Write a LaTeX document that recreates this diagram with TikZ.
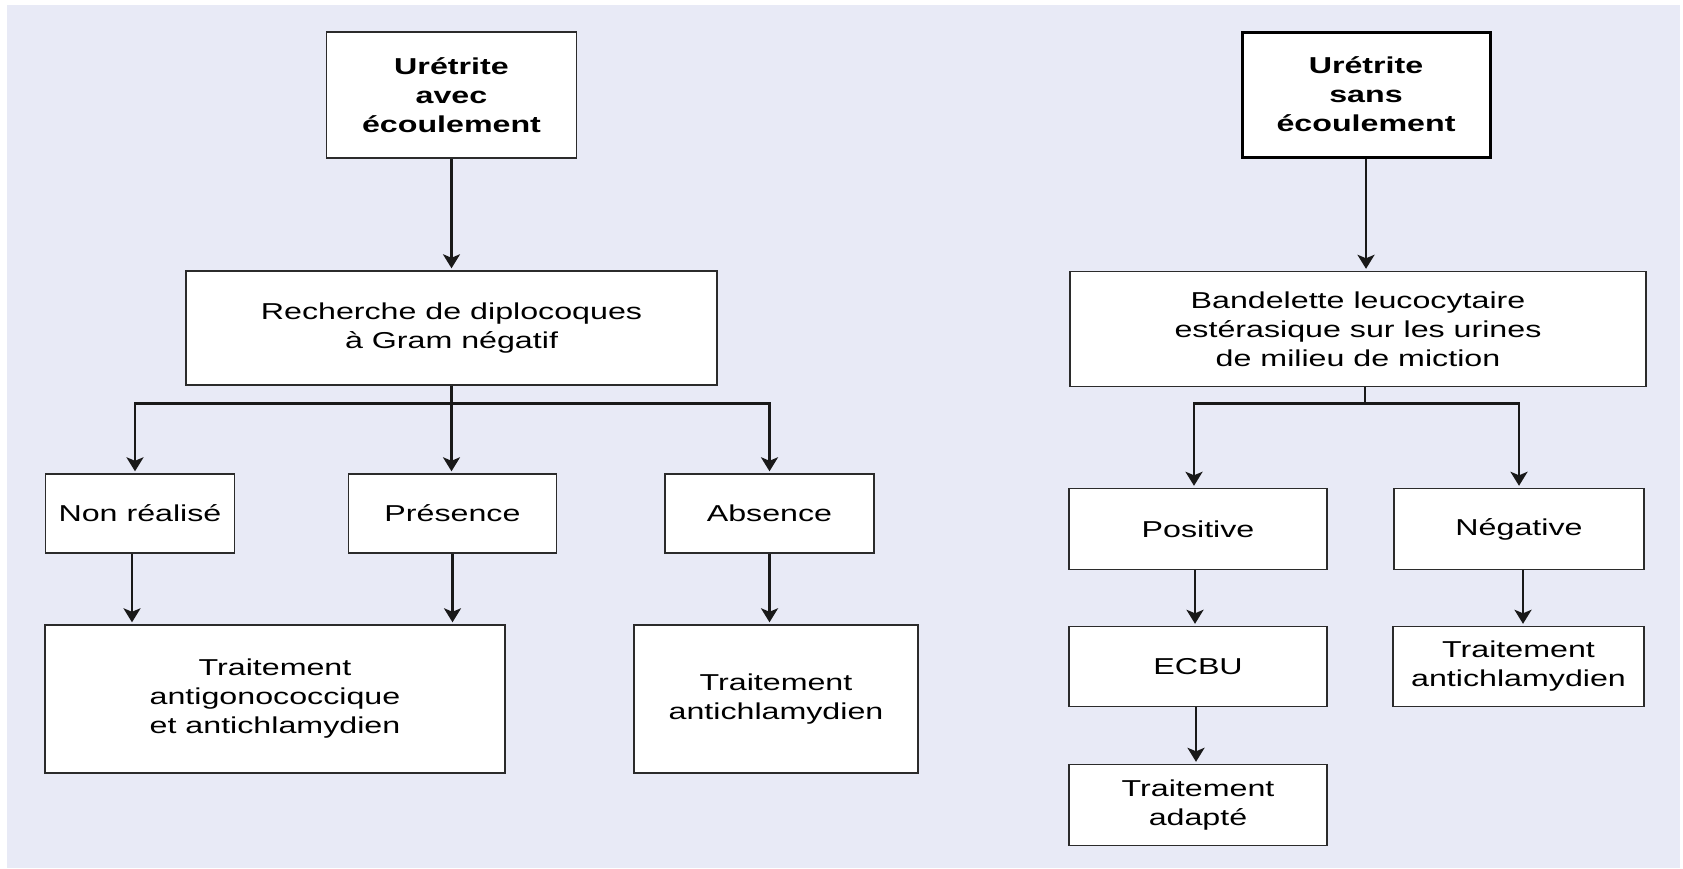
\documentclass[tikz,border=0pt]{standalone}
\usepackage{fontspec}
\setmainfont{Liberation Sans}[FakeStretch=1.4]
\usepackage{tikz}
\usetikzlibrary{arrows.meta, positioning}
\definecolor{bgcol}{HTML}{E8EAF6}
\definecolor{edgecol}{HTML}{2B2B2B}

\begin{document}
\begin{tikzpicture}[
  x = 1pt, y = -1pt,
  box/.style = {rectangle, draw=edgecol, line width=1.4pt, fill=white, align=center,
                inner sep=0pt, font=\fontsize{23}{29}\selectfont},
  boxhead/.style = {box, font=\fontsize{23}{29}\selectfont\bfseries},
  boxthick/.style = {boxhead, line width=3pt, draw=black},
  link/.style = {line width=2.8pt, draw=black!90},
  arr/.style = {link, -{Stealth[length=14pt, width=17pt, inset=3.5pt]}, shorten >=2pt}
]
  \useasboundingbox (0,0) rectangle (1683,868);
  \fill[bgcol] (7,5) rectangle (1680,868);

  \node[boxhead, minimum width=250pt, minimum height=126pt] (avec)    at (451.5,95)  {Urétrite\\avec\\écoulement};
  \node[box, minimum width=531pt, minimum height=114pt]     (gram)    at (451.5,328) {Recherche de diplocoques\\à Gram négatif};
  \node[box, minimum width=189pt, minimum height=79pt]      (nonreal) at (140,513.5) {Non réalisé};
  \node[box, minimum width=208pt, minimum height=79pt]      (pres)    at (452.5,513.5) {Présence};
  \node[box, minimum width=209pt, minimum height=79pt]      (abs)     at (769.5,513.5) {Absence};
  \node[box, minimum width=460pt, minimum height=148pt]     (trtgono) at (275,699)   {Traitement\\antigonococcique\\et antichlamydien};
  \node[box, minimum width=284pt, minimum height=148pt]     (trtchla) at (776,699)   {Traitement\\antichlamydien};

  \node[boxthick, minimum width=248pt, minimum height=125pt] (sans)   at (1366,94.5) {Urétrite\\sans\\écoulement};
  \node[box, minimum width=576pt, minimum height=115pt]     (bandel)  at (1358,329)  {Bandelette leucocytaire\\estérasique sur les urines\\de milieu de miction};
  \node[box, minimum width=258pt, minimum height=81pt]      (posit)   at (1198,529)  {Positive};
  \node[box, minimum width=250pt, minimum height=81pt]      (negat)   at (1519,529)  {Négative};
  \node[box, minimum width=258pt, minimum height=80pt]      (ecbu)    at (1198,666.5) {ECBU};
  \node[box, minimum width=251pt, minimum height=80pt]      (trtchlb) at (1518.5,666.5) {Traitement\\antichlamydien};
  \node[box, minimum width=258pt, minimum height=81pt]      (adapte)  at (1198,805)  {Traitement\\adapté};

  \coordinate (gsplit) at (451.5,403.5);
  \coordinate (bsplit) at (1365,403.5);

  \draw[arr]  (avec) -- (gram);
  \draw[link] (gram.south) -- (gsplit);
  \draw[arr]  (gsplit) -| ([xshift=-5pt]nonreal.north);
  \draw[arr]  (gsplit) -- (gsplit |- pres.north);
  \draw[arr]  (gsplit) -| (abs.north);
  \draw[arr]  ([xshift=-8pt]nonreal.south) -- ([xshift=-8pt]nonreal.south |- trtgono.north);
  \draw[arr]  (pres.south) -- (pres.south |- trtgono.north);
  \draw[arr]  (abs.south) -- (abs.south |- trtchla.north);

  \draw[arr]  (sans.south) -- (sans.south |- bandel.north);
  \draw[link] (bsplit |- bandel.south) -- (bsplit);
  \draw[arr]  (bsplit) -| ([xshift=-4pt]posit.north);
  \draw[arr]  (bsplit) -| (negat.north);
  \draw[arr]  ([xshift=-3pt]posit.south) -- ([xshift=-3pt]posit.south |- ecbu.north);
  \draw[arr]  ([xshift=-2pt]ecbu.south) -- ([xshift=-2pt]ecbu.south |- adapte.north);
  \draw[arr]  ([xshift=4pt]negat.south) -- ([xshift=4pt]negat.south |- trtchlb.north);
\end{tikzpicture}
\end{document}
